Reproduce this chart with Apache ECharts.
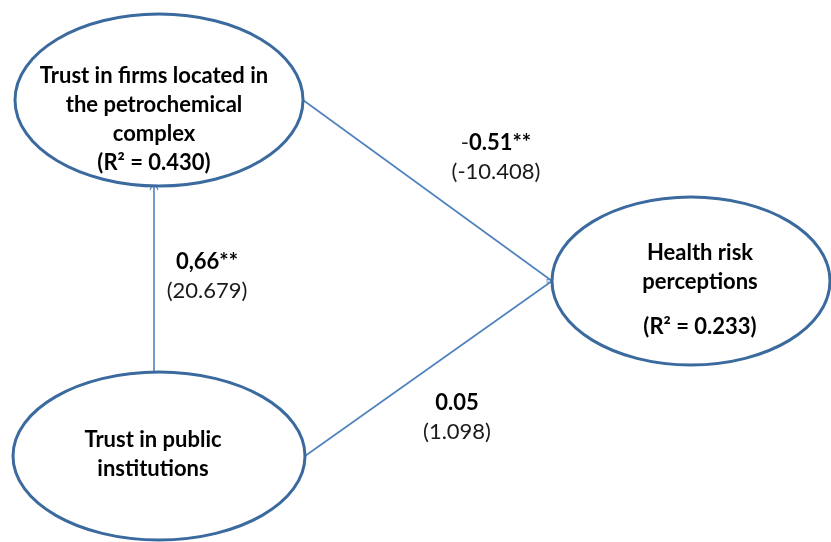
<!DOCTYPE html>
<html>
<head>
<meta charset="utf-8">
<script src="https://cdn.jsdelivr.net/npm/echarts@6/dist/echarts.min.js"></script>
<style>
  html, body { margin: 0; padding: 0; background: #fff; }
  #chart { width: 831px; height: 542px; }
</style>
</head>
<body>
<div id="chart"></div>
<script>
// constructs (ellipses)
const nodeNames = ['firms', 'health', 'public']
const nodeLines = [
  ['Trust in firms located in', 'the petrochemical', 'complex', '(R² = 0.430)'],
  ['Health risk', 'perceptions', '', '(R² = 0.233)'],
  ['Trust in public', 'institutions']
]
// layout: centre x, centre y, radius x, radius y, text offset x, text offset y
const nodeLayout = [
  [159, 100, 144, 86, -5, 19],
  [691, 281, 139, 84, 9, 9],
  [159, 456, 146, 84, -6, -2]
]

// paths: from, to, coefficient, t-value
const pathFrom = ['public', 'firms', 'public']
const pathTo = ['firms', 'health', 'health']
const pathCoef = ['0,66**', '-0.51**', '0.05']
const pathT = ['(20.679)', '(-10.408)', '(1.098)']
// where the path starts/ends on the ellipse (side) and where its label sits
const pathSides = [['top', 'bottom'], ['right', 'left'], ['right', 'left']]
const pathShiftX = [-5, 0, 0]
const labelPos = [[207, 276], [496, 157], [457, 417]]

const boxColor = '#3B6A9E'
const lineColor = '#4F81BD'
const font = 'Lato, "Open Sans", sans-serif'

function anchor(name, side, dx) {
  const l = nodeLayout[nodeNames.indexOf(name)]
  if (side === 'top') return [l[0] + dx, l[1] - Math.sqrt(1 - (dx / l[2]) ** 2) * l[3]]
  if (side === 'bottom') return [l[0] + dx, l[1] + Math.sqrt(1 - (dx / l[2]) ** 2) * l[3]]
  if (side === 'right') return [l[0] + l[2], l[1]]
  return [l[0] - l[2], l[1]]
}

const edgeData = pathFrom.map((f, i) => ({
  coords: [anchor(f, pathSides[i][0], pathShiftX[i]), anchor(pathTo[i], pathSides[i][1], pathShiftX[i])]
}))

const nodeData = nodeLayout.map((l, i) => ({ value: [l[0], l[1], l[2], l[3], l[4], l[5]], name: nodeNames[i] }))

const labelData = labelPos.map((p, i) => {
  const c = pathCoef[i]
  const coef = c.startsWith('-') ? '{n|-}{b|' + c.slice(1) + '}' : '{b|' + c + '}'
  return { value: p, label: { formatter: coef + '\n{n|' + pathT[i] + '}' } }
})

const chart = echarts.init(document.getElementById('chart'))
chart.setOption({
  animation: false,
  backgroundColor: '#fff',
  grid: { left: 0, right: 0, top: 0, bottom: 0 },
  xAxis: { type: 'value', min: 0, max: 831, show: false },
  yAxis: { type: 'value', min: 0, max: 542, inverse: true, show: false },
  series: [
    {
      type: 'lines',
      coordinateSystem: 'cartesian2d',
      z: 1,
      symbol: ['none', 'path://M0,0 L6,8 L5,9 L0,2.2 L-5,9 L-6,8 Z'],
      symbolSize: [11, 9],
      lineStyle: { color: lineColor, width: 1.6, opacity: 1 },
      itemStyle: { color: lineColor },
      data: edgeData
    },
    {
      type: 'custom',
      coordinateSystem: 'cartesian2d',
      z: 2,
      data: nodeData,
      renderItem: function (params, api) {
        const c = api.coord([api.value(0), api.value(1)])
        const r = api.size([api.value(2), api.value(3)])
        const lines = nodeLines[params.dataIndex]
        const txt = lines.map(s => s === '' ? '{g|}' : '{b|' + s + '}').join('\n')
        return {
          type: 'group',
          children: [
            {
              type: 'ellipse',
              shape: { cx: c[0], cy: c[1], rx: r[0], ry: r[1] },
              style: { fill: '#fff', stroke: boxColor, lineWidth: 3 }
            },
            {
              type: 'text',
              x: c[0] + api.value(4),
              y: c[1] + api.value(5),
              style: {
                text: txt,
                align: 'center',
                verticalAlign: 'middle',
                rich: {
                  b: { fontFamily: font, fontWeight: 'bold', fontSize: 22, lineHeight: 29, fill: '#000' },
                  g: { fontSize: 10, lineHeight: 16 }
                }
              }
            }
          ]
        }
      }
    },
    {
      type: 'scatter',
      z: 3,
      symbolSize: 0,
      silent: true,
      itemStyle: { opacity: 1 },
      data: labelData,
      label: {
        show: true,
        position: 'inside',
        align: 'center',
        verticalAlign: 'middle',
        rich: {
          b: { fontFamily: font, fontWeight: 'bold', fontSize: 22, lineHeight: 29, color: '#000' },
          n: { fontFamily: font, fontSize: 22, lineHeight: 29, color: '#1a1a1a' }
        }
      }
    }
  ]
})
</script>
</body>
</html>
